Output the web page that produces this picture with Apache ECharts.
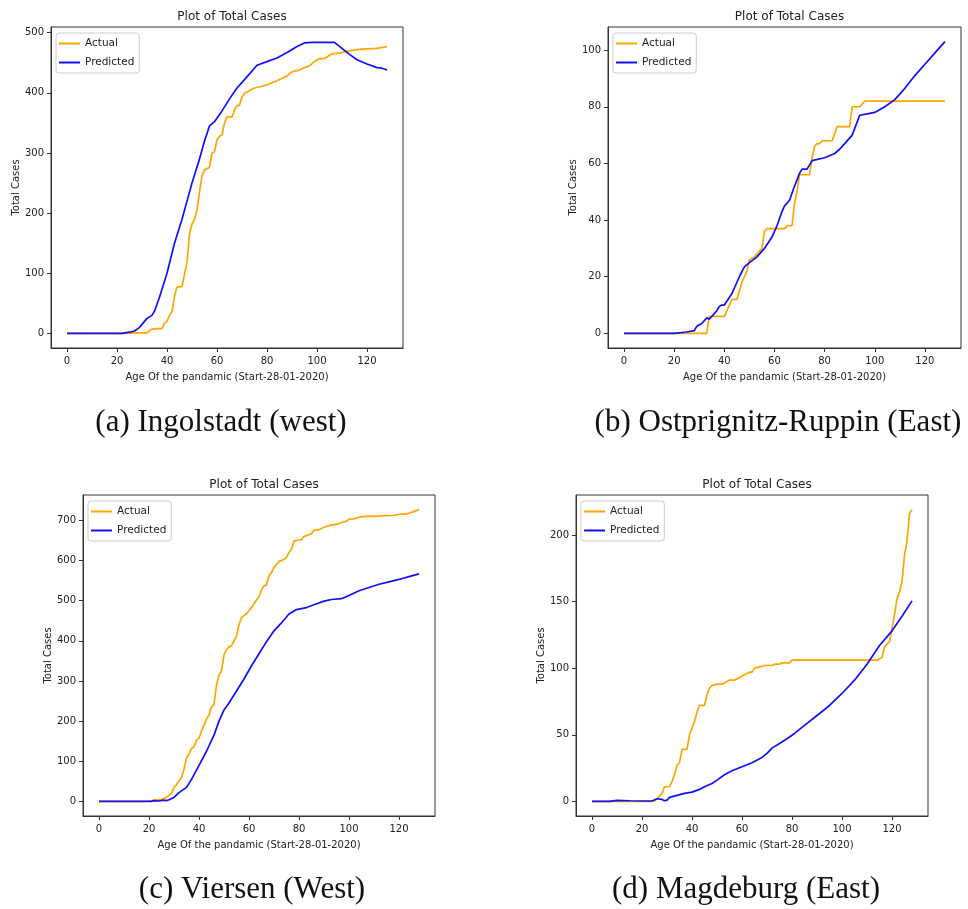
<!DOCTYPE html>
<html>
<head>
<meta charset="utf-8">
<script src="https://cdn.jsdelivr.net/npm/echarts@6/dist/echarts.min.js"></script>
<style>
  html, body { margin: 0; padding: 0; background: #fff; }
  #main { width: 968px; height: 909px; }
</style>
</head>
<body>
<div id="main"></div>
<script>
// days since 28-01-2020 -> total cases
const ingolstadtActual = [[0,0],[24,0],[26,1],[32,1],[33,5],[34,7],[36,8],[38,8],[39,17],[40,20],[41,30],[42,36],[43,62],[44,77],[46,78],[47,98],[48,118],[49,165],[50,182],[51,190],[52,205],[53,235],[54,262],[55,272],[56,274],[57,276],[58,300],[59,302],[60,322],[61,328],[62,330],[63,350],[64,360],[66,360],[67,372],[68,378],[69,380],[70,393],[71,399],[73,404],[75,408],[78,411],[81,415],[84,420],[88,428],[90,435],[93,438],[95,442],[97,445],[99,452],[101,457],[103,457],[106,465],[109,466],[113,470],[116,472],[120,473],[124,474],[128,477]];
const ingolstadtPredicted = [[0,0],[22,0],[25,2],[27,4],[29,10],[31,20],[32,25],[34,30],[35,37],[37,60],[40,100],[43,150],[46,190],[48,220],[50,250],[53,290],[55,320],[57,345],[59,352],[62,370],[65,390],[68,408],[71,422],[76,446],[80,452],[84,458],[88,467],[92,477],[95,483],[98,484],[107,484],[110,474],[113,464],[116,455],[120,448],[124,442],[126,441],[128,438]];

const ostprignitzActual = [[0,0],[33,0],[34,6],[40,6],[41,8],[42,10],[43,12],[45,12],[46,15],[47,18],[48,20],[49,22],[50,26],[52,27],[54,29],[55,30],[56,36],[57,37],[64,37],[65,38],[67,38],[68,46],[69,50],[70,56],[74,56],[75,62],[76,66],[77,67],[78,67],[79,68],[83,68],[85,73],[90,73],[91,80],[94,80],[96,82],[128,82]];
const ostprignitzPredicted = [[0,0],[20,0],[25,0.5],[28,1],[29,2.5],[31,3.5],[33,5.5],[34,5],[36,7],[37,8],[38,9.5],[39,10],[40,10],[43,14],[46,20],[48,23.5],[50,25],[53,27],[56,30],[59,34],[61,38],[63,43],[64,45],[66,47],[68,52],[70,56.5],[71,58],[73,58],[75,61],[80,62],[84,63.5],[86,65],[88,67],[91,70],[94,77],[97,77.5],[100,78],[104,80],[108,82.5],[112,86.5],[116,91],[120,95],[124,99],[128,103]];

const viersenActual = [[0,0],[17,0],[20,1],[22,3],[25,5],[27,10],[29,20],[30,35],[31,42],[32,50],[33,60],[34,80],[35,108],[36,118],[37,132],[38,136],[39,152],[40,158],[41,175],[42,190],[43,205],[44,215],[45,235],[46,242],[47,290],[48,315],[49,325],[50,365],[51,378],[52,385],[53,388],[54,400],[55,412],[56,440],[57,458],[58,463],[59,468],[60,475],[61,483],[62,492],[63,502],[64,510],[65,527],[66,537],[67,540],[68,563],[69,570],[70,583],[71,590],[72,598],[73,600],[74,603],[75,608],[76,620],[77,628],[78,648],[79,650],[81,652],[82,660],[84,665],[85,667],[86,676],[88,677],[90,683],[93,689],[95,690],[97,695],[99,698],[100,703],[102,704],[104,708],[106,710],[110,710],[114,712],[118,713],[121,716],[123,716],[125,720],[128,727]];
const viersenPredicted = [[0,0],[21,0],[22,2],[24,1],[26,3],[27,2],[28,4],[30,10],[32,22],[35,35],[37,55],[40,90],[43,125],[46,165],[48,200],[50,228],[52,245],[55,275],[58,305],[61,338],[64,368],[67,398],[70,425],[73,445],[76,467],[79,478],[83,483],[86,490],[90,499],[93,503],[97,505],[100,513],[104,525],[108,533],[112,541],[116,547],[120,553],[124,560],[128,567]];

const magdeburgActual = [[0,0],[24,0],[25,0.5],[26,2],[27,4],[28,6],[29,11],[31,11],[32,15],[33,20],[34,27],[35,29],[36,39],[38,39],[39,50],[40,55],[41,60],[42,67],[43,72],[45,72],[46,80],[47,85],[48,87],[50,88],[52,88],[54,90],[55,91],[57,91],[59,93],[61,95],[63,97],[64,97],[65,100],[67,101],[69,102],[72,102],[73,103],[75,103],[76,104],[79,104],[80,106],[114,106],[115,107],[116,108],[117,116],[119,120],[120,130],[121,140],[122,152],[123,157],[124,165],[125,185],[126,195],[127,216],[128,219]];
const magdeburgPredicted = [[0,0],[7,0],[10,0.8],[15,0.5],[20,0.3],[24,0.3],[26,2],[28,1.5],[29,0.5],[30,1],[31,3],[34,4.5],[37,6],[40,7],[43,9],[45,11],[48,13.5],[50,16],[53,20],[56,23],[60,26],[64,29],[68,33],[70,36],[72,40],[75,43.5],[78,47],[81,51],[85,57],[90,64.5],[95,72],[100,81],[105,91],[110,103],[115,117],[120,128],[124,139],[128,150.5]];

const xTicks = [0, 20, 40, 60, 80, 100, 120];
const yTicksA = [0, 100, 200, 300, 400, 500];
const yTicksB = [0, 20, 40, 60, 80, 100];
const yTicksC = [0, 100, 200, 300, 400, 500, 600, 700];
const yTicksD = [0, 50, 100, 150, 200];

const captions = ['(a) Ingolstadt (west)', '(b) Ostprignitz-Ruppin (East)', '(c) Viersen (West)', '(d) Magdeburg (East)'];

const ORANGE = '#ffa500';
const BLUE = '#1010f8';
const TXT = '#222';
const FONT = 'DejaVu Sans';

const panels = [
  { grid: { left: 51, top: 27, width: 352, height: 321 }, yMin: -24.25, yMax: 509.5, yTicks: yTicksA,
    actual: ingolstadtActual, predicted: ingolstadtPredicted, legend: [56, 33], caption: [221, 423] },
  { grid: { left: 608, top: 27, width: 353, height: 321 }, yMin: -5.15, yMax: 108.15, yTicks: yTicksB,
    actual: ostprignitzActual, predicted: ostprignitzPredicted, legend: [613, 33], caption: [778, 423] },
  { grid: { left: 83, top: 495, width: 352, height: 321 }, yMin: -36.35, yMax: 763.4, yTicks: yTicksC,
    actual: viersenActual, predicted: viersenPredicted, legend: [88, 501], caption: [252, 890] },
  { grid: { left: 576, top: 495, width: 352, height: 321 }, yMin: -10.95, yMax: 229.95, yTicks: yTicksD,
    actual: magdeburgActual, predicted: magdeburgPredicted, legend: [581, 501], caption: [746, 890] }
];

const chart = echarts.init(document.getElementById('main'), null, { renderer: 'canvas' });

const option = {
  animation: false,
  backgroundColor: '#fff',
  textStyle: { fontFamily: FONT },
  title: [],
  grid: [],
  xAxis: [],
  yAxis: [],
  legend: [],
  series: [],
  graphic: []
};

panels.forEach((p, i) => {
  option.grid.push(Object.assign({ show: true, borderColor: '#333', borderWidth: 1, containLabel: false }, p.grid));

  option.title.push({
    text: 'Plot of Total Cases',
    left: p.grid.left + p.grid.width / 2,
    top: p.grid.top - 21,
    textAlign: 'center',
    textStyle: { fontFamily: FONT, fontSize: 12, fontWeight: 'normal', color: TXT }
  });

  option.xAxis.push({
    type: 'value', gridIndex: i, min: -6.4, max: 134.4,
    name: 'Age Of the pandamic (Start-28-01-2020)', nameLocation: 'middle', nameGap: 24,
    nameTextStyle: { fontFamily: FONT, fontSize: 10, color: TXT },
    axisLine: { show: true, onZero: false, lineStyle: { color: '#333' } },
    axisTick: { show: true, inside: false, length: 4, customValues: xTicks, lineStyle: { color: '#333' } },
    axisLabel: { customValues: xTicks, margin: 8, fontFamily: FONT, fontSize: 10, color: TXT },
    splitLine: { show: false }
  });

  option.yAxis.push({
    type: 'value', gridIndex: i, min: p.yMin, max: p.yMax,
    name: 'Total Cases', nameLocation: 'middle', nameGap: 30, nameRotate: 90,
    nameTextStyle: { fontFamily: FONT, fontSize: 10, color: TXT },
    axisLine: { show: true, onZero: false, lineStyle: { color: '#333' } },
    axisTick: { show: true, inside: false, length: 4, customValues: p.yTicks, lineStyle: { color: '#333' } },
    axisLabel: { customValues: p.yTicks, margin: 7, fontFamily: FONT, fontSize: 10, color: TXT },
    splitLine: { show: false }
  });

  option.legend.push({
    data: ['Actual', 'Predicted'],
    left: p.legend[0], top: p.legend[1],
    orient: 'vertical',
    icon: 'rect', itemWidth: 21, itemHeight: 2, itemGap: 8,
    selectedMode: false,
    borderColor: '#ccc', borderWidth: 1, borderRadius: 3,
    backgroundColor: 'rgba(255,255,255,0.8)',
    padding: [5, 5, 5, 3],
    textStyle: { fontFamily: FONT, fontSize: 10.5, color: TXT }
  });

  option.series.push({
    name: 'Actual', type: 'line', xAxisIndex: i, yAxisIndex: i,
    data: p.actual, showSymbol: false, symbol: 'none',
    lineStyle: { color: ORANGE, width: 1.7 }, itemStyle: { color: ORANGE }
  });
  option.series.push({
    name: 'Predicted', type: 'line', xAxisIndex: i, yAxisIndex: i,
    data: p.predicted, showSymbol: false, symbol: 'none',
    lineStyle: { color: BLUE, width: 1.7 }, itemStyle: { color: BLUE }
  });

  option.graphic.push({
    type: 'text', x: p.caption[0], y: p.caption[1],
    style: {
      text: captions[i], textAlign: 'center', textVerticalAlign: 'middle',
      font: '31px "Liberation Serif"', fill: '#111'
    }
  });
});

chart.setOption(option);
</script>
</body>
</html>
